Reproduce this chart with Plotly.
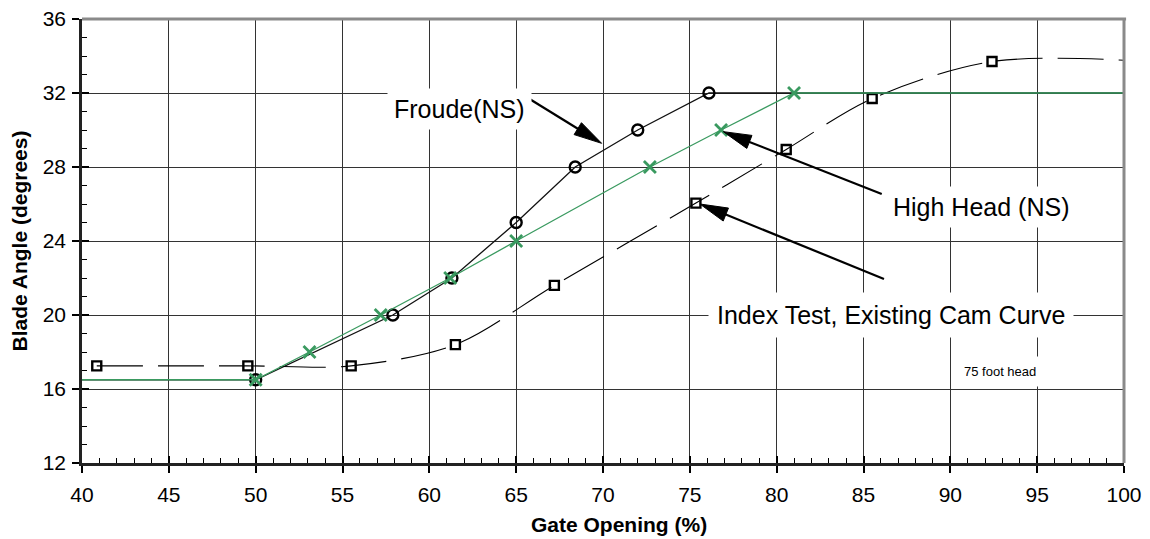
import math
import plotly.graph_objects as go

# ---- data -------------------------------------------------------------
# Froude (NS) cam curve (flat ends run past the axis limits)
froude_gate = [39.0, 50.0, 57.9, 61.3, 65.0, 68.4, 72.0, 76.1, 101.0]
froude_blade = [16.5, 16.5, 20.0, 22.0, 25.0, 28.0, 30.0, 32.0, 32.0]

# High Head (NS) cam curve
high_gate = [39.0, 50.0, 53.1, 57.2, 61.2, 65.0, 72.7, 76.8, 81.0, 101.0]
high_blade = [16.5, 16.5, 18.0, 20.0, 22.0, 24.0, 28.0, 30.0, 32.0, 32.0]

# Index test, existing cam curve
index_gate = [40.85, 49.55, 55.5, 61.5, 67.2, 75.35, 80.55, 85.5, 92.4, 101.5]
index_blade = [17.25, 17.25, 17.25, 18.4, 21.6, 26.05, 28.95, 31.7, 33.7, 33.7]

x_ticks = [40, 45, 50, 55, 60, 65, 70, 75, 80, 85, 90, 95, 100]
y_ticks = [12, 16, 20, 24, 28, 32, 36]

# ---- layout constants -------------------------------------------------
W, H = 1150, 539
M_L, M_R, M_T, M_B = 82, 26, 19, 76
X_MIN, X_MAX = 40, 100
Y_MIN, Y_MAX = 12, 36
PX_X = (W - M_L - M_R) / (X_MAX - X_MIN)
PX_Y = (H - M_T - M_B) / (Y_MAX - Y_MIN)

FONT = "Liberation Sans, Arial, Helvetica, sans-serif"
GREEN = "#3a9a60"

fig = go.Figure()

fig.add_trace(go.Scatter(
    x=froude_gate, y=froude_blade, mode="lines+markers", name="Froude(NS)",
    line=dict(color="#111111", width=1.3),
    marker=dict(symbol="circle-open", size=11, color="#000000",
                line=dict(width=2.4, color="#000000")),
))
fig.add_trace(go.Scatter(
    x=index_gate, y=index_blade, mode="lines+markers", name="Index Test",
    line=dict(color="#000000", width=1.1, dash="46px,15px", shape="spline", smoothing=0.9),
    marker=dict(symbol="square-open", size=9, color="#000000",
                line=dict(width=2.4, color="#000000")),
))
fig.add_trace(go.Scatter(
    x=high_gate, y=high_blade, mode="lines+markers", name="High Head (NS)",
    line=dict(color=GREEN, width=1.3),
    marker=dict(symbol="x-thin", size=12, color=GREEN,
                line=dict(width=2.8, color=GREEN)),
))
# empty trace that activates the overlay axes used for inward tick marks
fig.add_trace(go.Scatter(x=[], y=[], xaxis="x2", yaxis="y2", showlegend=False,
                         hoverinfo="skip"))


def arrow(tail, tip, head_len=28, half_w=7, width=2.2):
    """Line plus filled wedge head, sized in pixels but placed in data units."""
    dx = (tip[0] - tail[0]) * PX_X
    dy = (tip[1] - tail[1]) * PX_Y
    length = math.hypot(dx, dy)
    ux, uy = dx / length, dy / length
    bx = tip[0] - ux * head_len / PX_X
    by = tip[1] - uy * head_len / PX_Y
    lx, ly = bx - uy * half_w / PX_X, by + ux * half_w / PX_Y
    rx, ry = bx + uy * half_w / PX_X, by - ux * half_w / PX_Y
    return [
        dict(type="line", xref="x", yref="y", x0=tail[0], y0=tail[1],
             x1=bx + ux * 2 / PX_X, y1=by + uy * 2 / PX_Y,
             line=dict(color="#000000", width=width), layer="above"),
        dict(type="path", xref="x", yref="y",
             path=f"M{tip[0]},{tip[1]} L{lx},{ly} L{rx},{ry} Z",
             fillcolor="#000000", line=dict(color="#000000", width=1), layer="above"),
    ]


shapes = []
shapes += arrow((65.68, 31.73), (69.92, 29.28))
shapes += arrow((86.05, 26.54), (76.93, 29.91))
shapes += arrow((86.18, 21.95), (75.58, 26.0))
# grey frame on the top and right edges of the plot area
shapes += [
    dict(type="line", xref="paper", yref="paper", x0=0, x1=1.002, y0=1, y1=1,
         line=dict(color="#8a8a8a", width=3), layer="above"),
    dict(type="line", xref="paper", yref="paper", x0=1, x1=1, y0=0, y1=1,
         line=dict(color="#8a8a8a", width=3), layer="above"),
]

label_font = dict(family=FONT, size=25, color="#000000")
title_font = dict(family=FONT, size=21, color="#000000", weight="bold")
annotations = [
    dict(x=61.74, y=31.14, xref="x", yref="y", text="Froude(NS)", showarrow=False,
         font=label_font, bgcolor="#ffffff", borderpad=6),
    dict(x=91.79, y=25.84, xref="x", yref="y", text="High Head (NS)", showarrow=False,
         font=label_font, bgcolor="#ffffff", borderpad=6),
    dict(x=86.61, y=20.0, xref="x", yref="y", text="Index Test, Existing Cam Curve",
         showarrow=False, font=label_font, bgcolor="#ffffff", borderpad=8),
    dict(x=92.86, y=16.92, xref="x", yref="y", text="75 foot head", showarrow=False,
         font=dict(family=FONT, size=13, color="#000000"), bgcolor="#ffffff", borderpad=7),
    # x-axis title
    dict(x=0.515, y=0, xref="paper", yref="paper", yshift=-61, xanchor="center",
         yanchor="middle", text="Gate Opening (%)", showarrow=False, font=title_font),
]

tick_font = dict(family=FONT, size=21, color="#000000")

fig.update_layout(
    width=W, height=H, autosize=False,
    margin=dict(l=M_L, r=M_R, t=M_T, b=M_B, pad=0, autoexpand=False),
    paper_bgcolor="#ffffff", plot_bgcolor="#ffffff",
    showlegend=False,
    shapes=shapes,
    annotations=annotations,
    xaxis=dict(
        range=[X_MIN, X_MAX], tickvals=x_ticks, ticktext=[str(v) for v in x_ticks],
        tickfont=tick_font, ticks="outside", ticklen=7, tickwidth=1.5, tickcolor="#000000",
        ticklabelstandoff=4, automargin=False,
        showline=True, linecolor="#222222", linewidth=2.5,
        showgrid=True, gridcolor="#333333", gridwidth=1, zeroline=False,
    ),
    yaxis=dict(
        range=[Y_MIN, Y_MAX], tickvals=y_ticks, ticktext=[str(v) for v in y_ticks],
        tickfont=tick_font, ticks="outside", ticklen=7, tickwidth=1.5, tickcolor="#000000",
        ticklabelstandoff=2, automargin=False,
        showline=True, linecolor="#222222", linewidth=2.5,
        showgrid=True, gridcolor="#333333", gridwidth=1, zeroline=False,
        title=dict(text="Blade Angle (degrees)", font=title_font, standoff=10),
    ),
    # overlay axes carry the inward major and minor tick marks
    xaxis2=dict(
        range=[X_MIN, X_MAX], overlaying="x", anchor="y2", side="bottom",
        tickvals=x_ticks, showticklabels=False, ticks="inside", ticklen=7,
        tickwidth=1.5, tickcolor="#000000", showgrid=False, showline=False, zeroline=False,
        automargin=False,
        minor=dict(dtick=1, ticks="inside", ticklen=5, tickwidth=1.2, tickcolor="#000000",
                   showgrid=False),
    ),
    yaxis2=dict(
        range=[Y_MIN, Y_MAX], overlaying="y", anchor="x2", side="left",
        tickvals=y_ticks, showticklabels=False, ticks="inside", ticklen=7,
        tickwidth=1.5, tickcolor="#000000", showgrid=False, showline=False, zeroline=False,
        automargin=False,
        minor=dict(dtick=1, ticks="inside", ticklen=5, tickwidth=1.2, tickcolor="#000000",
                   showgrid=False),
    ),
)

fig.write_html("out.html")
